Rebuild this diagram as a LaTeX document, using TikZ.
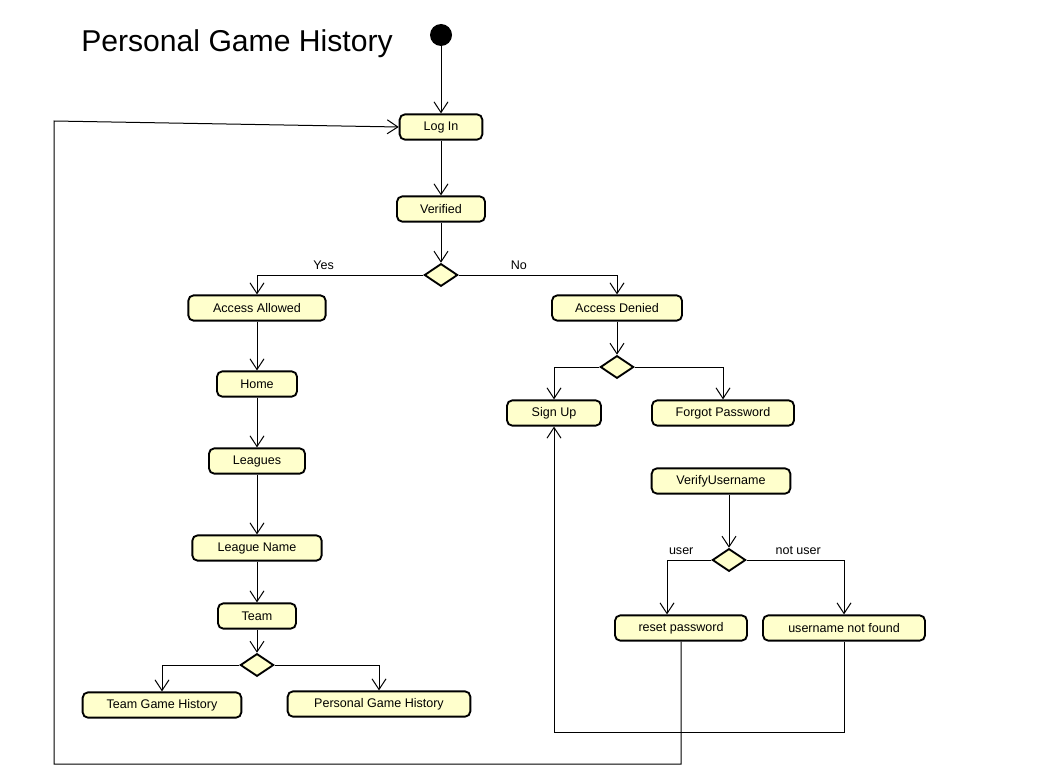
\documentclass[tikz,border=0pt]{standalone}
\usepackage{fontspec}
\setmainfont{Liberation Sans}
\usetikzlibrary{shapes.geometric,arrows.meta}
\definecolor{actfill}{RGB}{255,255,204}
\begin{document}
\begin{tikzpicture}[x=0.75pt,y=-0.75pt,
    act/.style={draw,line width=1.4pt,rounded corners=4pt,fill=actfill,
      minimum height=19pt,inner sep=2pt,font=\fontsize{9.4}{11}\selectfont},
    choice/.style={draw,diamond,line width=1.4pt,fill=actfill,inner sep=0pt,
      minimum width=25pt,minimum height=17pt},
    flow/.style={line width=0.75pt,-{Straight Barb[length=8pt,width=10.5pt]}},
    guard/.style={above,font=\fontsize{9.4}{11}\selectfont}]
      \useasboundingbox (0,0) rectangle (1055,781);
      \node[font=\fontsize{22.6}{26}\selectfont] (title) at (237,44) {Personal Game History};
      \node[circle,fill,inner sep=0pt,minimum size=16.5pt] (start) at (441,35) {};
      \draw
        (441,127) node[act,minimum width=62pt] (login){Log In}
        (441,209) node[act,minimum width=66pt] (verified){Verified}
        (441,275) node[choice] (d1){}
        (257,308) node[act,minimum width=103pt] (allowed){Access Allowed}
        (257,384) node[act,minimum width=60pt] (home){Home}
        (257,461) node[act,minimum width=72pt] (leagues){Leagues}
        (257,548) node[act,minimum width=97pt] (leaguename){League Name}
        (257,616) node[act,minimum width=58.5pt] (team){Team}
        (257,665) node[choice] (d4){}
        (162,705) node[act,minimum width=119pt] (teamhist){Team Game History}
        (379,704) node[act,minimum width=137pt] (pershist){Personal Game History}
        (617,308) node[act,minimum width=97.5pt] (denied){Access Denied}
        (617,367) node[choice] (d2){}
        (554,413) node[act,minimum width=70.5pt] (signup){Sign Up}
        (723,413) node[act,minimum width=106.5pt] (forgot){Forgot Password}
        (721,481) node[act,minimum width=104pt] (verify){VerifyUsername}
        (729,560) node[choice] (d3){}
        (681,628) node[act,minimum width=99pt] (reset){reset password}
        (844,628) node[act,minimum width=121.5pt] (unf){username not found};
      \coordinate (b1) at (554,732);
      \coordinate (b2) at (54,764);
      \coordinate (b3) at (54,121);
      \begin{scope}[flow]
        \draw (start) to (login);
        \draw (login) to (verified);
        \draw (verified) to (d1);
        \draw (d1) -| node[guard,pos=0.3]{Yes} (allowed);
        \draw (d1) -| node[guard,pos=0.19]{No} (denied);
        \draw (allowed) to (home);
        \draw (home) to (leagues);
        \draw (leagues) to (leaguename);
        \draw (leaguename) to (team);
        \draw (team) to (d4);
        \draw (d4) -| (teamhist);
        \draw (d4) -| (pershist);
        \draw (denied) to (d2);
        \draw (d2) -| (signup);
        \draw (d2) -| (forgot);
        \draw (d3 |- verify.south) to (d3);
        \draw (d3) -| node[guard,pos=0.34]{user} ([xshift=-10.5pt]reset.north);
        \draw (d3) -| node[guard,pos=0.265]{not user} (unf);
        \draw (unf) |- (b1) -- (signup);
        \draw (reset) |- (b2) -- (b3) -- (login.west);
      \end{scope}
    \end{tikzpicture}
\end{document}
